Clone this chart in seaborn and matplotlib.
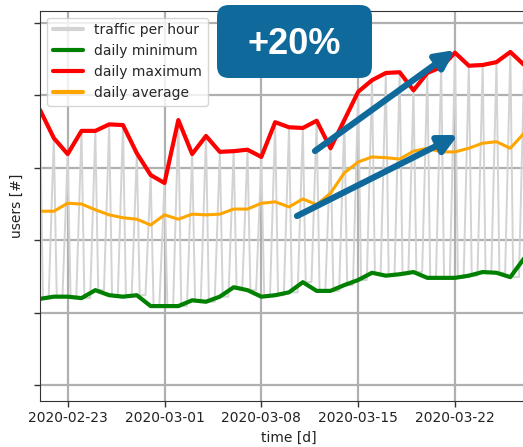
import pandas as pd
import seaborn as sns
import matplotlib as mpl
mpl.use('Agg')
import matplotlib.pyplot as plt
from matplotlib.patches import FancyBboxPatch
from matplotlib.transforms import IdentityTransform

# daily values (users, arbitrary scale)
days = pd.date_range('2020-02-21', '2020-03-27', freq='D')
daily_max = [3800, 3410, 3190, 3510, 3510, 3600, 3590, 3200, 2900, 2790,
             3660, 3190, 3440, 3220, 3230, 3250, 3150, 3630, 3560, 3550,
             3650, 3270, 3660, 4050, 4210, 4310, 4320, 4070, 4310, 4390,
             4590, 4410, 4420, 4460, 4600, 4420]
daily_avg = [2400, 2400, 2510, 2500, 2420, 2350, 2310, 2290, 2210, 2350,
             2290, 2360, 2350, 2360, 2430, 2430, 2510, 2530, 2460, 2570,
             2490, 2650, 2930, 3080, 3150, 3140, 3120, 3230, 3270, 3220,
             3220, 3270, 3340, 3360, 3270, 3480]
daily_min = [1190, 1220, 1220, 1200, 1310, 1240, 1220, 1240, 1090, 1090,
             1090, 1170, 1150, 1220, 1350, 1310, 1220, 1240, 1280, 1420,
             1300, 1300, 1380, 1450, 1550, 1510, 1530, 1560, 1480, 1480,
             1480, 1510, 1560, 1550, 1490, 1750]

# hourly traffic: peak around midnight, quiet stretch during the day
peak_hour = 0
low_start = 5
low_end = 15

hourly_t = []
hourly_v = []
for d, lo, hi in zip(days, daily_min, daily_max):
    hourly_t += [d + pd.Timedelta(hours=h) for h in (peak_hour, low_start, low_end)]
    hourly_v += [hi, lo, lo]
df_hour = pd.DataFrame({'time': hourly_t, 'users': hourly_v})
df_day = pd.DataFrame({'time': days, 'min': daily_min, 'max': daily_max, 'avg': daily_avg})

sns.set_style('ticks')
plt.rcParams['font.family'] = ['DejaVu Sans']

fig = plt.figure(figsize=(5.23, 4.47), dpi=100)
ax = fig.add_axes([40 / 523, 46 / 447, (538 - 40) / 523, (401 - 10.7) / 447])

sns.lineplot(data=df_hour, x='time', y='users', color='lightgray', lw=1.4, ax=ax, label='traffic per hour')
sns.lineplot(data=df_day, x='time', y='min', color='green', lw=3, ax=ax, label='daily minimum')
sns.lineplot(data=df_day, x='time', y='max', color='red', lw=3, ax=ax, label='daily maximum')
sns.lineplot(data=df_day, x='time', y='avg', color='orange', lw=2.2, ax=ax, label='daily average')

ax.set_xlim(pd.Timestamp('2020-02-21'), pd.Timestamp('2020-03-28'))
ax.set_ylim(-221, 5170)
ax.set_yticks(range(0, 5001, 1000))
ax.set_yticklabels([])
ticks = pd.to_datetime(['2020-02-23', '2020-03-01', '2020-03-08', '2020-03-15', '2020-03-22'])
ax.set_xticks(ticks)
ax.set_xticklabels([t.strftime('%Y-%m-%d') for t in ticks], fontsize=10, color='#222222')
ax.grid(True, color='#b0b0b0', lw=1.6)
ax.set_axisbelow(True)
ax.tick_params(length=4, width=1, color='#333333')
for s in ax.spines.values():
    s.set_color('#333333')
ax.set_xlabel('time [d]', fontsize=10, color='#222222')
ax.set_ylabel('users [#]', fontsize=10, color='#222222', labelpad=4)

leg = ax.legend(loc='upper left', fontsize=10, framealpha=0.8, edgecolor='#cccccc',
                handlelength=2.2, borderaxespad=0.5, fancybox=True)
for h in leg.get_lines():
    h.set_linewidth(3)

blue = '#0f6a9b'
box = FancyBboxPatch((217, 447 - 78), 155, 73, boxstyle='round,pad=0,rounding_size=12',
                     transform=IdentityTransform(), facecolor=blue, edgecolor='none',
                     clip_on=False, zorder=10)
ax.add_artist(box)
fig.text(294 / 523, 1 - 44 / 447, '+20%', color='white', fontsize=26, fontweight='bold',
         ha='center', va='center', family=['Liberation Sans', 'DejaVu Sans'], zorder=11)

arrow = dict(arrowstyle='-|>', lw=4.5, color=blue, mutation_scale=28, shrinkA=0, shrinkB=0)
ax.annotate('', xy=(455, 447 - 50), xytext=(315, 447 - 151), xycoords='figure pixels',
            textcoords='figure pixels', arrowprops=arrow, zorder=9)
ax.annotate('', xy=(458, 447 - 135), xytext=(297, 447 - 216), xycoords='figure pixels',
            textcoords='figure pixels', arrowprops=arrow, zorder=9)

plt.savefig('out.png', dpi=100)
